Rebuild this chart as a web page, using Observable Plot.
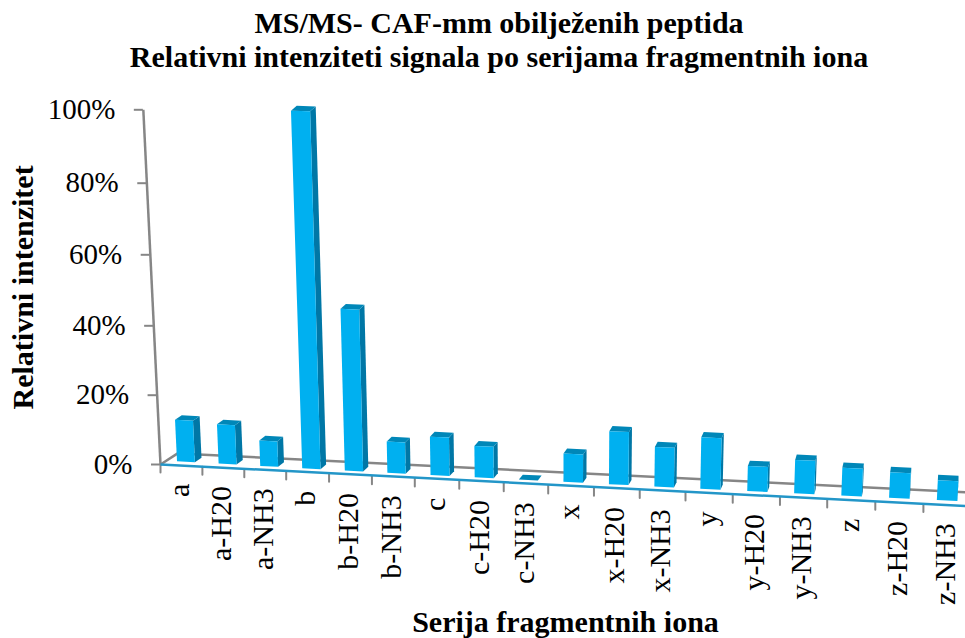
<!DOCTYPE html>
<html><head><meta charset="utf-8">
<script src="https://cdn.jsdelivr.net/npm/d3@7"></script>
<script src="https://cdn.jsdelivr.net/npm/@observablehq/plot@0.6"></script>
<style>
html,body{margin:0;padding:0;background:#fff;width:965px;height:638px;overflow:hidden}
body{font-family:"Liberation Serif",serif;color:#000}
#title{height:85px;box-sizing:border-box;padding-top:6px;text-align:center;font-weight:bold;font-size:30px;line-height:34px;padding-left:33px}
#cap{text-align:center;font-weight:bold;font-size:30px;line-height:33px;padding-left:166px;margin-top:0}
svg{display:block}
</style></head><body>
<div id="title">MS/MS- CAF-mm obilježenih peptida<br>Relativni intenziteti signala po serijama fragmentnih iona</div>
<div id="chart"></div>
<div id="cap">Serija fragmentnih iona</div>
<script>
const categories = ["a","a-H20","a-NH3","b","b-H20","b-NH3","c","c-H20","c-NH3","x","x-H20","x-NH3","y","y-H20","y-NH3","z","z-H20","z-NH3"];
const values = [12,11.3,7.3,100,46,8.9,10.9,8.9,0,8,14.9,11.1,14.4,7,9.3,7.7,7.1,5.5];
const yTicks = [0,20,40,60,80,100];

// perspective of the 3-D chart, in scale units
const P = (t, v, z) => ({
  X: t + (-0.41 + 0.045 * t) * (v / 100) + z * 0.41 * (1 - t / 18),
  Y: v * (1 + 0.0025 * t) - 0.672 * t + z * (3.2 + 0.045 * t)
});
const barL = 0.285, barR = 0.715, zF = 0.3, zB = 0.7;
const quad = (id, a, b, c, d) => [
  {id, x1: a.X, y1: a.Y, x2: d.X, y2: d.Y},
  {id, x1: b.X, y1: b.Y, x2: c.X, y2: c.Y}
];
const front = [], side = [], top_ = [];
values.forEach((v, i) => {
  const l = i + barL, r = i + barR;
  front.push(...quad(i, P(l,v,zF), P(r,v,zF), P(r,0,zF), P(l,0,zF)));
  side.push(...quad(i, P(r,v,zF), P(r,v,zB), P(r,0,zB), P(r,0,zF)));
  top_.push(...quad(i, P(l,v,zB), P(r,v,zB), P(r,v,zF), P(l,v,zF)));
});
const segment = (a, b) => ({x1: a.X, y1: a.Y, x2: b.X, y2: b.Y});
const idx = d3.range(18);
const gray = "#868686";
const area = (data, fill) => Plot.area(data, {x1:"x1", y1:"y1", x2:"x2", y2:"y2", z:"id", fill});
const link = (data, stroke, strokeWidth) => Plot.link(data, {x1:"x1", y1:"y1", x2:"x2", y2:"y2", stroke, strokeWidth});

const chart = Plot.plot({
  width: 965, height: 520,
  margin: 0,
  style: {fontFamily: "Liberation Serif", background: "#fff", color:"#000", overflow:"visible"},
  x: {type:"linear", domain:[0,3,6,9,12,15,18], range:[160,285.7,414.3,547.7,685,826.7,971], axis:null},
  y: {type:"linear", domain:[0,20,40,60,80,100], range:[379,309.7,240.3,169.3,97.7,24.3], axis:null},
  marks: [
    link([segment(P(0,0,0),P(0,0,1)), segment(P(0,0,1),P(18,0,1))], gray, 2.5),
    link([segment(P(0,0,0),P(0,100,0))], gray, 2.5),
    Plot.vector(d3.range(19), {x: i=>P(i,0,0).X, y: i=>P(i,0,0).Y, length: 8, rotate: 180, anchor:"start", stroke: gray, strokeWidth:2, shape:{draw(c,l,r){c.moveTo(0,0);c.lineTo(0,-l);}}}),
    link([segment(P(0,0,0),P(18,0,0))], "#2396c8", 2.5),
    Plot.axisY(yTicks, {x: d=>P(0,d,0).X, y: d=>P(0,d,0).Y, anchor:"left", tickSize:9, tickPadding:19, stroke:gray, strokeWidth:2, fontSize:29, text: d=>d+"%", label:null}),
    Plot.axisX(idx, {x: i=>P(i+.5,0,0).X, y: i=>P(i+.5,0,0).Y, anchor:"bottom", tickSize:0, tickPadding:18, tickRotate:-90, fontSize:30, dx:-2, text: i=>categories[i], label:null}),
    area(side, "#0077a6"),
    area(top_, "#0087b8"),
    area(front, "#00b0f0"),
    Plot.text(["Relativni intenzitet"], {frameAnchor:"left", dx:23, dy:64, rotate:-90, fontSize:30, fontWeight:"bold"})
  ]
});
document.getElementById("chart").append(chart);
</script>
</body></html>
